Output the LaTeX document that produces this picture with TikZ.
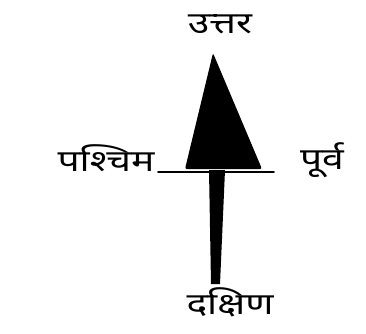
\documentclass[tikz,border=0pt]{standalone}
\usepackage{fontspec}
\newfontfamily\deva[Script=Devanagari]{Noto Sans}
\begin{document}
\begin{tikzpicture}[x=1pt,y=-1pt,
  lbl/.style={font=\deva\fontsize{30}{34}\selectfont, inner sep=0pt, xscale=1.3},
  ink/.style={line width=1.6pt, line cap=round}]
\useasboundingbox (0,0) rectangle (366,333);
% triangle
\coordinate (apex) at (213,53);
\coordinate (bl) at (185,169);
\coordinate (br) at (262,169);
\fill[black, rounded corners=2pt] (apex) -- (br) -- (bl) -- cycle;
% horizontal line
\coordinate (wend) at (158,172);
\coordinate (eend) at (274,172);
\draw[ink] (wend) -- (eend);
% shaft
\fill[black] (209,170) -- (225,170) -- (220,284) -- (211,284) -- cycle;
\node[lbl] (n) at (220,24) {उत्तर};
\node[lbl] (w) at (106,158) {पश्चिम};
\node[lbl] (e) at (322,160) {पूर्व};
\node[lbl] (s) at (230,302) {दक्षिण};
\end{tikzpicture}
\end{document}
